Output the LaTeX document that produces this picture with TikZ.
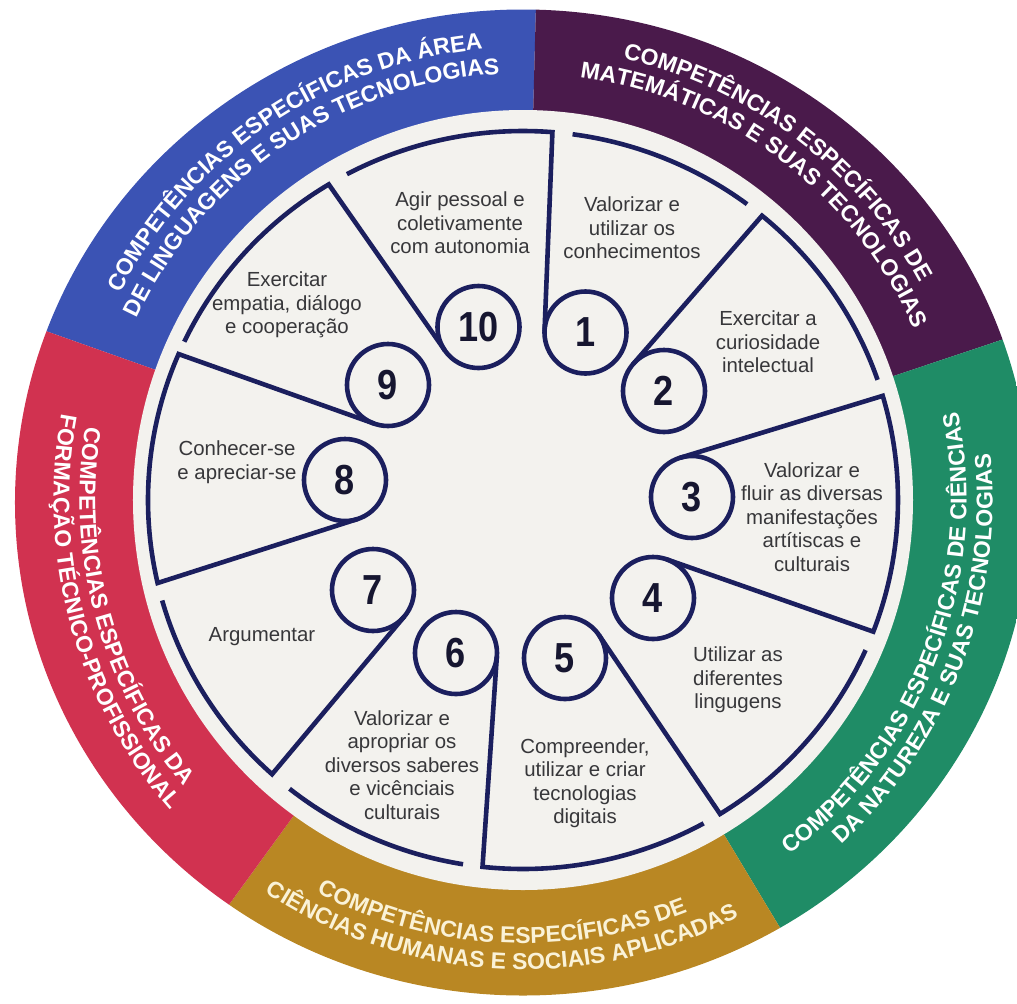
\documentclass[tikz,border=0pt]{standalone}
\usepackage{fontspec}
\setmainfont{Liberation Sans}
\usepackage{graphicx}
\usepackage{tikz}
\usetikzlibrary{calc, decorations.text}

\definecolor{navyline}{RGB}{27,31,94}
\definecolor{numink}{RGB}{22,22,48}
\definecolor{ringblue}{RGB}{59,83,180}
\definecolor{ringpurple}{RGB}{74,26,75}
\definecolor{ringgreen}{RGB}{31,140,102}
\definecolor{ringgold}{RGB}{185,135,35}
\definecolor{ringred}{RGB}{209,50,80}
\definecolor{ringcream}{RGB}{250,242,215}
\definecolor{discfill}{RGB}{243,242,238}
\definecolor{textgray}{RGB}{55,55,58}

\newcommand{\ringfont}{\bfseries\fontsize{11.5}{12}\selectfont}
\newcommand{\numfont}{\bfseries\fontsize{21}{21}\selectfont}

\begin{document}
\begin{tikzpicture}[x=0.5pt, y=0.5pt,
  navy/.style={draw=navyline, line width=2.3pt, line join=miter},
  numcirc/.style={circle, draw=navyline, line width=2.3pt, fill=discfill,
    minimum size=41pt, inner sep=0pt, outer sep=0pt, text=numink},
  sectext/.style={align=center, text=textgray, font=\fontsize{10.2}{11.75}\selectfont},
  ringtext/.style={decorate, decoration={text along path, text align=center,
    text color=white, text={|\ringfont|#1}}},
  ringtextgold/.style={decorate, decoration={text along path, text align=center,
    text color=ringcream, text={|\ringfont|#1}}}]

\useasboundingbox (-523,-503) rectangle (494,500);
\clip (-523,-503) rectangle (494,500);

% outer ring
\begin{scope}
\clip (0,-2.5) ellipse [x radius=508, y radius=493];
\fill[ringblue] (0,0) -- (88.5:700) arc[start angle=88.5, end angle=160.5, radius=700] -- cycle;
\fill[ringpurple] (0,0) -- (18.5:700) arc[start angle=18.5, end angle=88.5, radius=700] -- cycle;
\fill[ringgreen] (0,0) -- (-59:700) arc[start angle=-59, end angle=18.5, radius=700] -- cycle;
\fill[ringgold] (0,0) -- (-126:700) arc[start angle=-126, end angle=-59, radius=700] -- cycle;
\fill[ringred] (0,0) -- (160.5:700) arc[start angle=160.5, end angle=234, radius=700] -- cycle;
\end{scope}
\fill[discfill] (0,0) circle[radius=390];

\path[ringtext={COMPETÊNCIAS ESPECÍFICAS DA ÁREA}] (169:452.5) arc[start angle=169, end angle=79, radius=452.5];
\path[ringtext={DE LINGUAGENS E SUAS TECNOLOGIAS}] (169:426.5) arc[start angle=169, end angle=79, radius=426.5];
\path[ringtext={COMPETÊNCIAS ESPECÍFICAS DE}] (98:452.5) arc[start angle=98, end angle=8, radius=452.5];
\path[ringtext={MATEMÁTICAS E SUAS TECNOLOGIAS}] (98:426.5) arc[start angle=98, end angle=8, radius=426.5];
\path[ringtext={COMPETÊNCIAS ESPECÍFICAS DE CIÊNCIAS}] (-65.8:443.5) arc[start angle=-65.8, end angle=24.2, radius=443.5];
\path[ringtext={DA NATUREZA E SUAS TECNOLOGIAS}] (-65.8:469.5) arc[start angle=-65.8, end angle=24.2, radius=469.5];
\path[ringtextgold={COMPETÊNCIAS ESPECÍFICAS DE}] (-138:443.5) arc[start angle=-138, end angle=-48, radius=443.5];
\path[ringtextgold={CIÊNCIAS HUMANAS E SOCIAIS APLICADAS}] (-138:469.5) arc[start angle=-138, end angle=-48, radius=469.5];
\path[ringtext={COMPETÊNCIAS ESPECÍFICAS DA}] (150.3:443.5) arc[start angle=150.3, end angle=240.3, radius=443.5];
\path[ringtext={FORMAÇÃO TÉCNICO-PROFISSIONAL}] (150.3:469.5) arc[start angle=150.3, end angle=240.3, radius=469.5];

% numbers
\node[numcirc] (n1) at (62.5,167.5) {\scalebox{0.86}[1]{\numfont 1}};
\node[numcirc] (n2) at (141,109) {\scalebox{0.86}[1]{\numfont 2}};
\node[numcirc] (n3) at (169,3) {\scalebox{0.86}[1]{\numfont 3}};
\node[numcirc] (n4) at (130,-98) {\scalebox{0.86}[1]{\numfont 4}};
\node[numcirc] (n5) at (42,-158) {\scalebox{0.86}[1]{\numfont 5}};
\node[numcirc] (n6) at (-67,-153) {\scalebox{0.86}[1]{\numfont 6}};
\node[numcirc] (n7) at (-150,-90) {\scalebox{0.86}[1]{\numfont 7}};
\node[numcirc] (n8) at (-178,20) {\scalebox{0.86}[1]{\numfont 8}};
\node[numcirc] (n9) at (-135,115) {\scalebox{0.86}[1]{\numfont 9}};
\node[numcirc] (n10) at (-44.5,173) {\scalebox{0.86}[1]{\numfont 10}};

% corners
\coordinate (c1) at (85.5:375 and 369);
\coordinate (c2) at (50.4:375 and 369);
\coordinate (c3) at (16.4:375 and 369);
\coordinate (c4) at (-20.9:375 and 369);
\coordinate (c5) at (-58.3:375 and 369);
\coordinate (c6) at (-96.2:375 and 369);
\coordinate (c7) at (-132:375 and 369);
\coordinate (c8) at (-167:375 and 369);
\coordinate (c9) at (156.7:375 and 369);
\coordinate (c10) at (121.2:375 and 369);

\draw[navy] (118:375 and 369) arc[start angle=118, end angle=85.5, x radius=375, y radius=369] -- (tangent cs:node=n1, point={(c1)}, solution=1);
\draw[navy] (82.4:375 and 369) arc[start angle=82.4, end angle=53.3, x radius=375, y radius=369];
\draw[navy] (tangent cs:node=n2, point={(c2)}, solution=1) -- (c2) arc[start angle=50.4, end angle=19, x radius=375, y radius=369];
\draw[navy] (tangent cs:node=n3, point={(c3)}, solution=1) -- (c3) arc[start angle=16.4, end angle=-20.9, x radius=375, y radius=369] -- (tangent cs:node=n4, point={(c4)}, solution=1);
\draw[navy] (-24:375 and 369) arc[start angle=-24, end angle=-58.3, x radius=375, y radius=369] -- (tangent cs:node=n5, point={(c5)}, solution=1);
\draw[navy] (-61.2:375 and 369) arc[start angle=-61.2, end angle=-96.2, x radius=375, y radius=369] -- (tangent cs:node=n6, point={(c6)}, solution=1);
\draw[navy] (-99.2:375 and 369) arc[start angle=-99.2, end angle=-128.5, x radius=375, y radius=369];
\draw[navy] (tangent cs:node=n7, point={(c7)}, solution=1) -- (c7) arc[start angle=-132, end angle=-164.2, x radius=375, y radius=369];
\draw[navy] (tangent cs:node=n8, point={(c8)}, solution=1) -- (c8) arc[start angle=-167, end angle=-203.3, x radius=375, y radius=369] -- (tangent cs:node=n9, point={(c9)}, solution=1);
\draw[navy] (154.6:375 and 369) arc[start angle=154.6, end angle=121.2, x radius=375, y radius=369] -- (tangent cs:node=n10, point={(c10)}, solution=1);

% texts
\node[sectext] (t1) at (109,272) {Valorizar e\\utilizar os\\conhecimentos};
\node[sectext] (t2) at (245,158) {Exercitar a\\curiosidade\\intelectual};
\node[sectext] (t3) at (289,-17) {Valorizar e\\fluir as diversas\\manifestações\\artítiscas e\\culturais};
\node[sectext] (t4) at (215,-180) {Utilizar as\\diferentes\\lingugens};
\node[sectext] (t5) at (62,-283) {Compreender,\\utilizar e criar\\tecnologias\\digitais};
\node[sectext] (t6) at (-121,-265) {Valorizar e\\apropriar os\\diversos saberes\\e vicênciais\\culturais};
\node[sectext] (t7) at (-261,-137) {Argumentar};
\node[sectext] (t8) at (-286,38) {Conhecer-se\\e apreciar-se};
\node[sectext] (t9) at (-236,195) {Exercitar\\empatia, diálogo\\e cooperação};
\node[sectext] (t10) at (-63,277) {Agir pessoal e\\coletivamente\\com autonomia};
\end{tikzpicture}
\end{document}
